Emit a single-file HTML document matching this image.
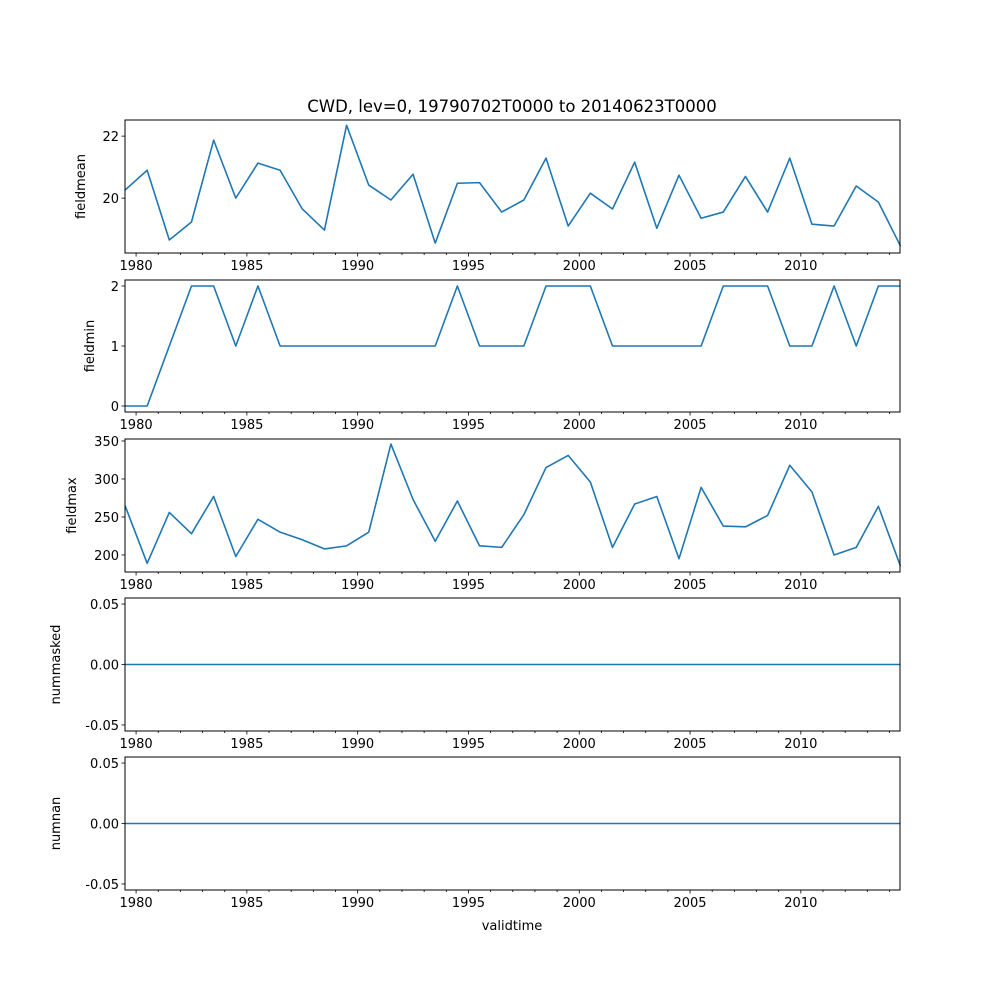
<!DOCTYPE html>
<html><head><meta charset="utf-8"><style>body{margin:0;background:#fff}svg{font-family:"DejaVu Sans","Liberation Sans",sans-serif}</style></head>
<body>
<svg id="c" width="1000" height="1000" xmlns="http://www.w3.org/2000/svg"></svg>
<script>
const years=[];for(let y=1979;y<=2014;y++)years.push(y);
const fieldmean=[20.26,20.9,18.65,19.23,21.87,20.0,21.13,20.9,19.65,18.97,22.35,20.42,19.94,20.77,18.55,20.48,20.5,19.55,19.94,21.29,19.1,20.16,19.65,21.16,19.03,20.74,19.35,19.55,20.7,19.55,21.29,19.16,19.1,20.39,19.87,18.45];
const fieldmin=[0,0,1,2,2,1,2,1,1,1,1,1,1,1,1,2,1,1,1,2,2,2,1,1,1,1,1,2,2,2,1,1,2,1,2,2];
const fieldmax=[265,189,256,228,277,198,247,230,220,208,212,230,346,273,218,271,212,210,253,315,331,296,210,267,277,195,289,238,237,252,318,283,200,210,264,185];
const nummasked=years.map(()=>0);
const numnan=years.map(()=>0);
const xTicks=[1980,1985,1990,1995,2000,2005,2010];
const panels=[
 {name:"fieldmean",data:fieldmean,top:120,bot:253,min:18.23,max:22.52,ticks:[20,22],fmt:v=>String(v),lx:85},
 {name:"fieldmin",data:fieldmin,top:280,bot:412,min:-0.1,max:2.1,ticks:[0,1,2],fmt:v=>String(v),lx:94},
 {name:"fieldmax",data:fieldmax,top:439,bot:572,min:177.6,max:352.6,ticks:[200,250,300,350],fmt:v=>String(v),lx:76},
 {name:"nummasked",data:nummasked,top:598,bot:731,min:-0.055,max:0.055,ticks:[-0.05,0,0.05],fmt:v=>v.toFixed(2),lx:60},
 {name:"numnan",data:numnan,top:757,bot:890,min:-0.055,max:0.055,ticks:[-0.05,0,0.05],fmt:v=>v.toFixed(2),lx:60}
];
const L=125,R=900,t0=1979.5,t1=2014.475;
const xs=t=>L+(t-t0)/(t1-t0)*(R-L);
const svg=document.getElementById('c');const NS="http://www.w3.org/2000/svg";
function mk(tag,attrs,parent){const e=document.createElementNS(NS,tag);for(const k in attrs)e.setAttribute(k,attrs[k]);(parent||svg).appendChild(e);return e;}
const title=mk('text',{x:512,y:112,'text-anchor':'middle','font-size':16.5});
title.textContent="CWD, lev=0, 19790702T0000 to 20140623T0000";


panels.forEach(p=>{
 const g=mk('g',{});
 
 
 const ys=v=>p.bot-(v-p.min)/(p.max-p.min)*(p.bot-p.top);
 const pts=p.data.map((v,i)=>xs(years[i]+0.5).toFixed(2)+","+ys(v).toFixed(2)).join(" ");
 const line=mk('polyline',{points:pts,fill:'none',stroke:'#1f77b4','stroke-width':1.6,'stroke-linejoin':'round'},g);
 
 
 const fr=mk('rect',{x:L,y:p.top,width:R-L,height:p.bot-p.top,fill:'none',stroke:'#000','stroke-width':1},g);
 
 
 for(let y=1980;y<=2014;y++){const x=xs(y);mk('line',{x1:x,x2:x,y1:p.bot,y2:p.bot+(y%5==0?3.5:2),stroke:'#000','stroke-width':0.8},g);}
 xTicks.forEach(y=>{const t=mk('text',{x:xs(y),y:p.bot+17,'text-anchor':'middle','font-size':13},g);t.textContent=y;
  
  });
 p.ticks.forEach(v=>{const y=ys(v);mk('line',{x1:L-3.5,x2:L,y1:y,y2:y,stroke:'#000','stroke-width':0.8},g);
  const t=mk('text',{x:L-6,y:y+5,'text-anchor':'end','font-size':13},g);t.textContent=p.fmt(v);
  
  });
 const cy=(p.top+p.bot)/2, lx=p.lx;
 const yl=mk('text',{x:lx,y:cy,'text-anchor':'middle','font-size':13,transform:`rotate(-90 ${lx} ${cy})`},g);
 yl.textContent=p.name;
 
 
});
const xl=mk('text',{x:512,y:930,'text-anchor':'middle','font-size':13});
xl.textContent="validtime";


</script>
</body></html>
